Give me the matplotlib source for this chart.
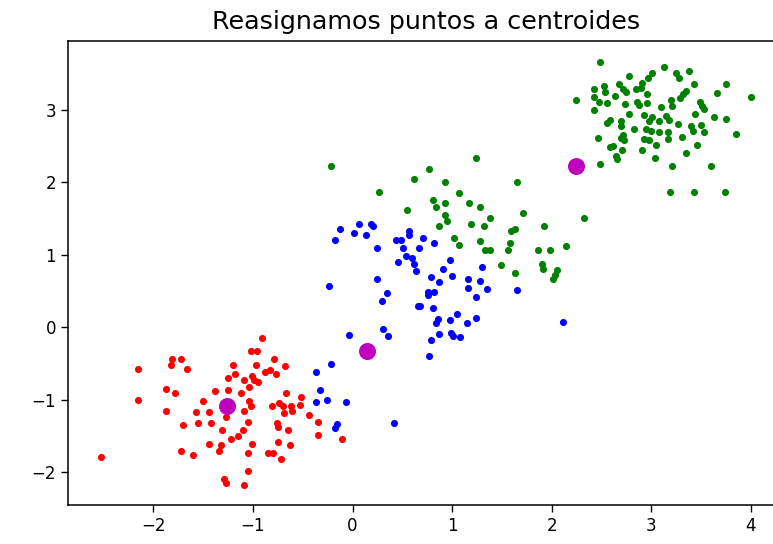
import matplotlib
matplotlib.use("Agg")
import matplotlib.pyplot as plt
import numpy as np

# Cluster 0 (red)
red_x = [-2.15, -1.81, -1.72, -1.82, -1.66, -2.15, -1.87, -1.78, -1.87, -1.38,
         -1.50, -1.57, -1.44, -1.70, -1.55, -1.42, -1.31, -1.44, -1.32, -1.34,
         -1.72, -1.60, -2.53, -1.29, -1.27, -1.02, -1.20, -1.25, -1.18, -1.09,
         -1.01, -1.25, -1.12, -1.04, -1.04, -1.02, -1.09, -1.27, -1.05, -1.10,
         -1.22, -1.15, -1.01, -1.05, -1.05, -1.09, -0.91, -0.96, -0.79, -0.97,
         -0.68, -0.88, -0.83, -0.77, -0.99, -0.95, -0.67, -0.52, -0.81, -0.74,
         -0.70, -0.62, -0.53, -0.61, -0.69, -0.44, -0.76, -0.75, -0.65, -0.75,
         -0.63, -0.85, -0.80, -0.72, -0.35, -0.35, -0.11]
red_y = [-0.58, -0.43, -0.44, -0.52, -0.58, -1.00, -0.85, -0.91, -1.15, -0.88,
         -1.02, -1.17, -1.17, -1.35, -1.32, -1.32, -1.42, -1.61, -1.62, -1.71,
         -1.70, -1.76, -1.79, -2.09, -2.15, -0.32, -0.52, -0.70, -0.64, -0.73,
         -0.67, -0.87, -0.90, -0.82, -1.01, -1.08, -1.15, -1.24, -1.30, -1.41,
         -1.54, -1.50, -1.61, -1.73, -1.98, -2.18, -0.15, -0.32, -0.43, -0.52,
         -0.53, -0.62, -0.59, -0.65, -0.72, -0.76, -0.90, -0.96, -1.08, -1.04,
         -1.08, -1.09, -1.07, -1.15, -1.18, -1.21, -1.32, -1.38, -1.41, -1.58,
         -1.62, -1.73, -1.73, -1.82, -1.31, -1.49, -1.54]

# Cluster 1 (blue)
blue_x = [-0.04, -0.22, -0.37, -0.33, -0.37, -0.26, -0.07, -0.16, -0.18, 0.42,
          -0.24, 0.25, 0.35, 0.30, 0.66, 0.31, 0.36, -0.13, 0.06, 0.19,
          0.21, 0.01, 0.14, -0.18, 0.25, 0.44, 0.49, 0.57, 0.57, 0.51,
          0.54, 0.60, 0.62, 0.64, 0.46, 0.67, 0.71, 0.82, 0.98, 0.91,
          1.00, 1.30, 0.79, 0.87, 1.16, 1.28, 1.16, 1.35, 0.76, 0.82,
          0.76, 1.24, 1.65, 0.68, 0.81, 0.86, 0.84, 0.98, 1.05, 1.15,
          1.24, 0.87, 0.99, 1.01, 1.08, 0.79, 2.11, 0.77]
blue_y = [-0.11, -0.50, -0.62, -0.87, -1.03, -1.00, -1.03, -1.33, -1.39, -1.32,
          0.57, 0.66, 0.47, 0.36, 0.29, -0.02, -0.12, 1.36, 1.42, 1.42,
          1.40, 1.30, 1.27, 1.21, 1.10, 1.21, 1.21, 1.33, 1.27, 1.10,
          0.99, 0.95, 0.87, 0.77, 0.90, 1.10, 1.23, 1.16, 0.93, 0.80,
          0.71, 0.83, 0.69, 0.63, 0.66, 0.64, 0.54, 0.53, 0.49, 0.49,
          0.44, 0.42, 0.51, 0.30, 0.27, 0.12, 0.06, 0.10, 0.19, 0.06,
          0.13, -0.09, -0.08, -0.12, -0.13, -0.17, 0.07, -0.39]

# Cluster 2 (green)
green_x = [-0.22, 0.77, 0.62, 0.93, 0.27, 0.81, 0.84, 0.93, 0.55, 0.93,
           0.95, 0.87, 1.24, 1.65, 1.07, 1.17, 1.28, 1.19, 1.32, 1.38,
           1.71, 1.59, 1.63, 1.02, 1.07, 1.28, 1.33, 1.38, 1.58, 1.56,
           1.49, 1.63, 1.92, 2.32, 1.86, 1.98, 2.14, 1.90, 1.91, 2.05,
           2.03, 2.01,
           2.48, 3.13, 2.78, 3.01, 2.97, 2.91, 2.42, 2.52, 2.53, 2.68,
           2.72, 2.75, 2.85, 2.90, 2.96, 2.24, 2.42, 2.47, 2.55, 2.64,
           2.74, 2.86, 2.88, 2.96, 3.10, 3.20, 3.21, 2.42, 2.78, 2.70,
           2.58, 2.55, 2.93, 3.01, 2.98, 3.08, 3.15, 3.18, 2.83, 2.70,
           2.72, 2.95, 3.00, 3.08, 3.17, 2.46, 2.70, 2.73, 2.93, 2.98,
           3.17, 2.58, 2.62, 2.71, 2.91, 3.05, 2.65, 2.66, 3.04, 2.48,
           3.21, 3.19, 3.25, 3.28, 3.38, 3.43, 3.75, 3.66, 4.00, 3.35,
           3.32, 3.29, 3.49, 3.51, 3.53, 3.44, 3.63, 3.75, 3.27, 3.40,
           3.42, 3.50, 3.53, 3.31, 3.85, 3.46, 3.35, 3.60, 3.43, 3.74]
green_y = [2.22, 2.19, 2.04, 2.01, 1.86, 1.75, 1.66, 1.71, 1.62, 1.55,
           1.46, 1.40, 2.34, 2.01, 1.85, 1.72, 1.66, 1.42, 1.40, 1.51,
           1.57, 1.33, 1.35, 1.23, 1.13, 1.19, 1.07, 1.07, 1.16, 1.07,
           0.86, 0.75, 1.40, 1.51, 1.07, 1.07, 1.12, 0.88, 0.81, 0.79,
           0.72, 0.67,
           3.66, 3.59, 3.47, 3.51, 3.44, 3.37, 3.28, 3.33, 3.24, 3.36,
           3.28, 3.24, 3.28, 3.30, 3.22, 3.14, 3.17, 3.11, 3.10, 3.19,
           3.08, 3.11, 3.07, 3.09, 3.04, 3.14, 3.05, 2.99, 2.94, 2.85,
           2.86, 2.82, 2.93, 2.90, 2.84, 2.84, 2.91, 2.86, 2.74, 2.77,
           2.65, 2.74, 2.71, 2.70, 2.70, 2.61, 2.61, 2.58, 2.59, 2.58,
           2.59, 2.48, 2.50, 2.44, 2.44, 2.51, 2.36, 2.32, 2.34, 2.25,
           2.22, 1.87, 3.50, 3.44, 3.53, 3.36, 3.36, 3.23, 3.17, 3.26,
           3.22, 3.16, 3.11, 3.05, 3.01, 2.94, 2.90, 2.87, 2.81, 2.78,
           2.71, 2.79, 2.70, 2.63, 2.67, 2.51, 2.40, 2.22, 1.87, 1.87]

# Centroids
centroid_x = [-1.26, 0.15, 2.24]
centroid_y = [-1.08, -0.33, 2.22]

fig = plt.figure(figsize=(7.73, 5.44), dpi=100)
ax = fig.add_axes([68 / 773, 1 - 505 / 544, (783.5 - 68) / 773, (505 - 40.5) / 544])

ax.scatter(red_x, red_y, s=26, c="r", linewidths=0)
ax.scatter(blue_x, blue_y, s=26, c="b", linewidths=0)
ax.scatter(green_x, green_y, s=26, c="g", linewidths=0)
ax.scatter(centroid_x, centroid_y, s=150, c="m", linewidths=0, zorder=3)

ax.set_xlim(-2.857, 4.327)
ax.set_ylim(-2.45, 3.955)
ax.set_xticks([-2, -1, 0, 1, 2, 3, 4])
ax.set_yticks([-2, -1, 0, 1, 2, 3])
ax.tick_params(labelsize=12, length=5, width=1)
for sp in ax.spines.values():
    sp.set_linewidth(1.1)
ax.set_title("Reasignamos puntos a centroides", fontsize=18.3, pad=8)

fig.savefig("out.png", dpi=100)
